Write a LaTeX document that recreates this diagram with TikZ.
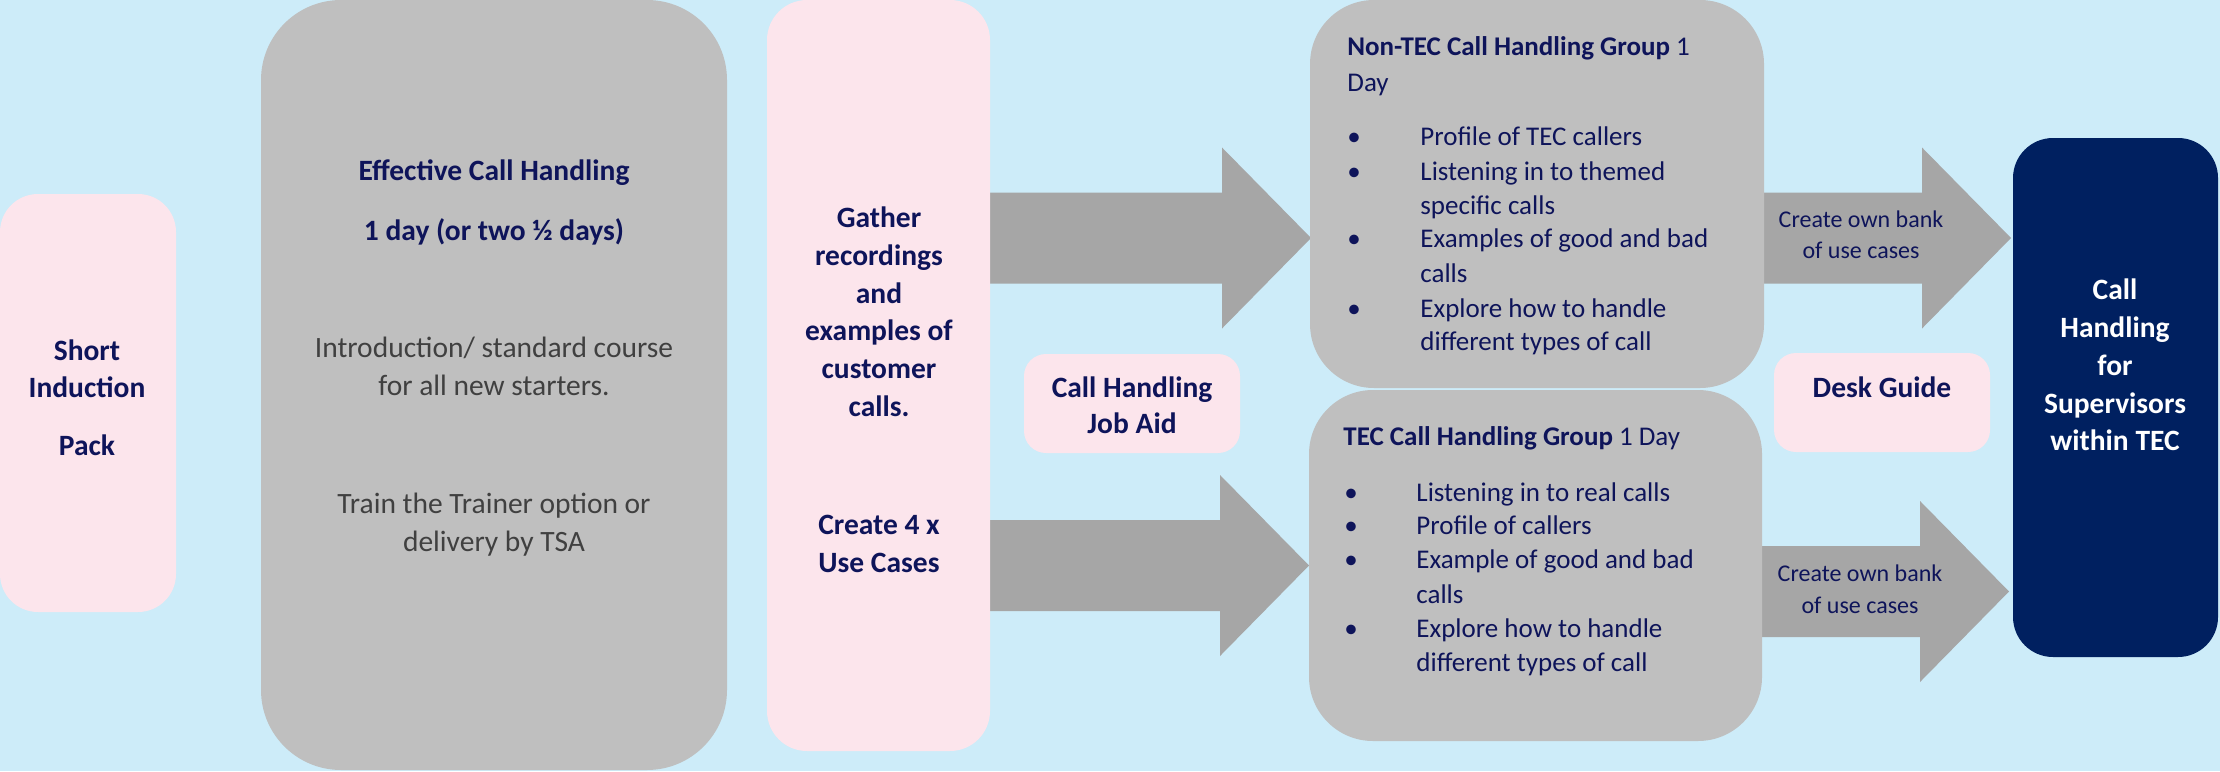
\documentclass[tikz,border=0pt]{standalone}
\usepackage{fontspec}
\setmainfont{Carlito}
\usetikzlibrary{calc,backgrounds}
\definecolor{bgblue}{RGB}{205,236,249}
\definecolor{pinkbox}{RGB}{252,229,236}
\definecolor{graybox}{RGB}{191,191,191}
\definecolor{arrowgray}{RGB}{166,166,166}
\definecolor{navybox}{RGB}{0,32,96}
\definecolor{tnavy}{RGB}{14,20,90}
\definecolor{tgray}{RGB}{64,64,64}
\newcommand\drawblockarrow[2]{%
  \fill[arrowgray] ($(#1)+(0,-45.5)$) -- ($(#2)+(-89,-45.5)$) -- ($(#2)+(-89,-90.5)$) -- (#2)
    -- ($(#2)+(-89,90.5)$) -- ($(#2)+(-89,45.5)$) -- ($(#1)+(0,45.5)$) -- cycle;}
\begin{document}
\begin{tikzpicture}[x=0.5pt,y=-0.5pt,
  box/.style={rectangle, draw=none, inner sep=0, outer sep=0},
  pinkb/.style={box, fill=pinkbox},
  grayb/.style={box, fill=graybox},
  navyb/.style={box, fill=navybox},
  lc/.style={inner sep=0, anchor=base, text=tnavy},
  ll/.style={inner sep=0, anchor=base west, text=tnavy},
  fb/.style={font=\fontsize{14.75}{18}\selectfont\bfseries},
  fr/.style={font=\fontsize{14.75}{18}\selectfont},
  fm/.style={font=\fontsize{13.5}{17}\selectfont},
  fs/.style={font=\fontsize{12}{15}\selectfont}
]
\useasboundingbox (0,0) rectangle (2220,771);

% boxes
\node[pinkb, rounded corners=19pt, minimum width=88pt, minimum height=209pt] (short) at (88,403) {};
\node[grayb, rounded corners=40pt, minimum width=233pt, minimum height=385pt] (eff) at (494,385) {};
\node[pinkb, rounded corners=20pt, minimum width=111.5pt, minimum height=375.5pt] (gather) at (878.5,375.5) {};
\node[grayb, rounded corners=32pt, minimum width=227pt, minimum height=194pt] (nontec) at (1537,194) {};
\node[grayb, rounded corners=32pt, minimum width=226.5pt, minimum height=175.5pt] (tec) at (1535.5,565.5) {};
\node[pinkb, rounded corners=11pt, minimum width=108pt, minimum height=49.5pt] (jobaid) at (1132,403.5) {};
\node[pinkb, rounded corners=11pt, minimum width=108pt, minimum height=49.5pt] (desk) at (1882,402.5) {};
\node[navyb, rounded corners=20pt, minimum width=102.5pt, minimum height=259.5pt] (sup) at (2115.5,397.5) {};

% arrows (behind boxes)
\coordinate (a1s) at (gather.center |- 0,238);
\coordinate (a1t) at ($(nontec.west |- 0,238)+(1,0)$);
\coordinate (a2s) at (gather.center |- 0,565.5);
\coordinate (a2t) at (tec.west |- 0,565.5);
\coordinate (a3s) at (nontec.center |- 0,238);
\coordinate (a3t) at ($(sup.west |- 0,238)+(-2,0)$);
\coordinate (a4s) at (tec.center |- 0,591.5);
\coordinate (a4t) at ($(sup.west |- 0,591.5)+(-4,0)$);
\begin{pgfonlayer}{background}
  \fill[bgblue] (0,0) rectangle (2220,771);
  \drawblockarrow{a1s}{a1t}
  \drawblockarrow{a2s}{a2t}
  \drawblockarrow{a3s}{a3t}
  \drawblockarrow{a4s}{a4t}
\end{pgfonlayer}

% Short Induction Pack
\node[lc,fb] (si1) at (87,360) {Short};
\node[lc,fb] (si2) at (87,397) {Induction};
\node[lc,fb] (si3) at (87,455) {Pack};

% Effective Call Handling
\node[lc,fb] (ec1) at (494,180) {Effective Call Handling};
\node[lc,fb] (ec2) at (494,240) {1 day (or two ½ days)};
\node[lc,fr,text=tgray] (ec3) at (494,357) {Introduction/ standard course};
\node[lc,fr,text=tgray] (ec4) at (494,395) {for all new starters.};
\node[lc,fr,text=tgray] (ec5) at (494,513) {Train the Trainer option or};
\node[lc,fr,text=tgray] (ec6) at (494,551) {delivery by TSA};

% Gather
\node[lc,fb] (g1) at (879,227) {Gather};
\node[lc,fb] (g2) at (879,265) {recordings};
\node[lc,fb] (g3) at (879,303) {and};
\node[lc,fb] (g4) at (879,340) {examples of};
\node[lc,fb] (g5) at (879,378) {customer};
\node[lc,fb] (g6) at (879,416) {calls.};
\node[lc,fb] (g7) at (879,534) {Create 4 x};
\node[lc,fb] (g8) at (879,572) {Use Cases};

% Job aid, desk guide
\node[lc,fb] (j1) at (1132,397) {Call Handling};
\node[lc,fb] (j2) at (1132,433) {Job Aid};
\node[lc,fb] (d1) at (1882,397) {Desk Guide};

% Supervisors
\node[lc,fb,text=white] (s1) at (2115,299) {Call};
\node[lc,fb,text=white] (s2) at (2115,337) {Handling};
\node[lc,fb,text=white] (s3) at (2115,375) {for};
\node[lc,fb,text=white] (s4) at (2115,413) {Supervisors};
\node[lc,fb,text=white] (s5) at (2115,450) {within TEC};

% Non-TEC
\node[ll,fm] (nt0) at (1347,55) {\textbf{Non-TEC Call Handling Group} 1};
\node[ll,fm] (nt0b) at (1347,91) {Day};
\node[ll,fm] (ntb1) at (1347,145) {•};
\node[ll,fm] (nt1) at (1420,145) {Profile of TEC callers};
\node[ll,fm] (ntb2) at (1347,180) {•};
\node[ll,fm] (nt2) at (1420,180) {Listening in to themed};
\node[ll,fm] (nt3) at (1420,214) {specific calls};
\node[ll,fm] (ntb4) at (1347,247) {•};
\node[ll,fm] (nt4) at (1420,247) {Examples of good and bad};
\node[ll,fm] (nt5) at (1420,282) {calls};
\node[ll,fm] (ntb6) at (1347,317) {•};
\node[ll,fm] (nt6) at (1420,317) {Explore how to handle};
\node[ll,fm] (nt7) at (1420,350) {different types of call};

% TEC
\node[ll,fm] (tt0) at (1343,445) {\textbf{TEC Call Handling Group} 1 Day};
\node[ll,fm] (ttb1) at (1344,501) {•};
\node[ll,fm] (tt1) at (1416,501) {Listening in to real calls};
\node[ll,fm] (ttb2) at (1344,534) {•};
\node[ll,fm] (tt2) at (1416,534) {Profile of callers};
\node[ll,fm] (ttb3) at (1344,568) {•};
\node[ll,fm] (tt3) at (1416,568) {Example of good and bad};
\node[ll,fm] (tt4) at (1416,603) {calls};
\node[ll,fm] (ttb5) at (1344,637) {•};
\node[ll,fm] (tt5) at (1416,637) {Explore how to handle};
\node[ll,fm] (tt6) at (1416,671) {different types of call};

% small arrow labels
\node[lc,fs] (u1) at (1861,227) {Create own bank};
\node[lc,fs] (u2) at (1861,258) {of use cases};
\node[lc,fs] (l1) at (1860,581) {Create own bank};
\node[lc,fs] (l2) at (1860,613) {of use cases};
\end{tikzpicture}
\end{document}
